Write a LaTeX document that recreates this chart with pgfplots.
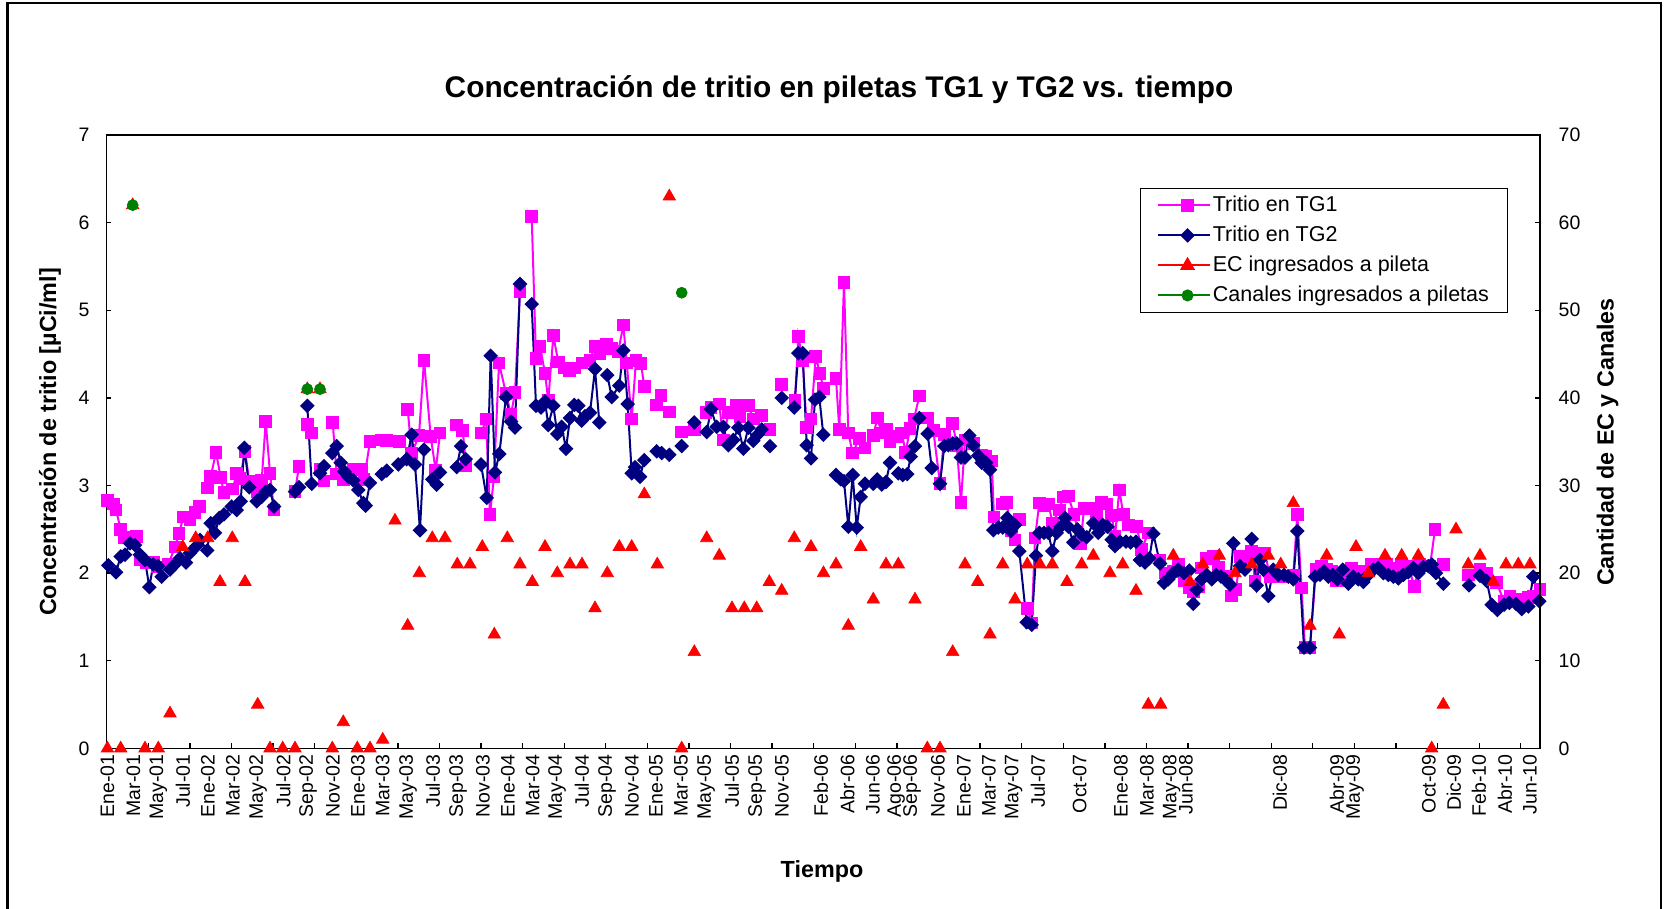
\documentclass[border=0pt]{standalone}
\usepackage{pgfplots}
\pgfplotsset{compat=1.18}
\usepackage{fontspec}
\setmainfont{Liberation Sans}
\definecolor{tgone}{RGB}{255,0,255}
\definecolor{tgtwo}{RGB}{0,0,128}
\definecolor{ecred}{RGB}{255,0,0}
\definecolor{cangreen}{RGB}{0,128,0}
\begin{document}
\begin{tikzpicture}[x=0.6pt,y=0.6pt]
\useasboundingbox (0,0) rectangle (1667,908);
\draw[line width=1.5pt] (7.4,-5) -- (7.4,904.8) -- (1661,904.8) -- (1661,-5);
\begin{axis}[
  at={(63.9pt,95.76pt)}, anchor=south west,
  scale only axis, width=860.1pt, height=368.04pt,
  xmin=106.5, xmax=1540, ymin=0, ymax=7,
  clip=false, unbounded coords=jump,
  axis line style={black, line width=0.9pt},
  ytick={0,1,...,7}, ytick pos=left,
  xtick={148.3,189.89,...,1525}, xticklabels={}, xtick pos=bottom,
  extra x ticks={107.5,133.4,158.4,183,208,233,258,283.5,308,333,358,382.6,408,433,458,483,508,532.7,557,582,607,632,656,681,706,732,757,782,821,847.4,872.8,896,912,938,964,989,1013.5,1038,1079.6,1121,1147,1171.6,1186,1280,1337,1355,1429,1454,1479,1505,1530},
  extra x tick labels={Ene-01,Mar-01,May-01,Jul-01,Ene-02,Mar-02,May-02,Jul-02,Sep-02,Nov-02,Ene-03,Mar-03,May-03,Jul-03,Sep-03,Nov-03,Ene-04,Mar-04,May-04,Jul-04,Sep-04,Nov-04,Ene-05,Mar-05,May-05,Jul-05,Sep-05,Nov-05,Feb-06,Abr-06,Jun-06,Ago-06,Sep-06,Nov-06,Ene-07,Mar-07,May-07,Jul-07,Oct-07,Ene-08,Mar-08,May-08,Jun-08,Dic-08,Abr-09,May-09,Oct-09,Dic-09,Feb-10,Abr-10,Jun-10},
  extra x tick style={major tick length=0pt},
  tick align=inside, major tick length=3pt,
  tick style={black, line width=0.8pt},
  /pgf/number format/assume math mode=true,
  tick label style={font=\fontsize{11.7}{12}\selectfont},
  xticklabel style={rotate=90, anchor=east, inner sep=3.5pt},
  yticklabel style={anchor=east, inner sep=0pt, xshift=-10pt},
  legend style={at={(0.721,0.9136)}, anchor=north west, draw=black, line width=0.6pt, fill=white,
    font=\fontsize{12.9}{14}\selectfont, inner xsep=10pt, inner ysep=3pt, row sep=3.7pt,
    nodes={inner sep=1pt, text height=9.5pt, text depth=2.8pt}},
  legend cell align=left,
  legend image code/.code={\path (-5pt,0pt) -- (26.2pt,0pt); \draw[mark repeat=2,mark phase=2,#1] plot coordinates {(0pt,0pt) (12.6pt,0pt) (25.2pt,0pt)};},
]
\addplot[tgone, line width=1.2pt, mark=square*, mark size=3.2pt, mark options={solid}] coordinates {
(107.3,2.83)(113.3,2.79)(116,2.72)(120.7,2.50)(124,2.41)(128.3,2.41)(130,nan)
(136.7,2.42)(140.7,2.15)(146,2.12)(153.3,2.12)(157.3,2.07)(160,nan)
(168.3,2.10)(175,2.30)(179,2.45)(183.3,2.64)(190,2.61)(195,2.69)(199.3,2.76)(203,nan)
(207.3,2.97)(210.7,3.10)(216,3.38)(220.7,3.09)(224,2.92)(228,nan)
(232.7,2.96)(236.7,3.14)(240,3.08)(245,3.39)(249.3,3.05)(253,nan)
(257.3,2.93)(261.7,3.06)(265.7,3.73)(270,3.14)(274,2.72)(280,nan)
(295,2.93)(299,3.22)(303,nan)
(307.3,3.70)(311.7,3.60)(315,nan)
(320,3.18)(324,3.05)(328,nan)
(332.7,3.72)(336.7,3.13)(343.3,3.07)(348,nan)
(353.3,3.18)(357,nan)
(361.7,3.18)(364,3.07)(370,3.50)(375,nan)
(381.7,3.52)(386.7,3.51)(392,nan)
(399.3,3.50)(403,nan)
(407.7,3.87)(411.7,3.37)(419,3.57)(424,4.43)(430.7,3.56)(435.7,3.17)(440,3.60)(448,nan)
(456.7,3.69)(462.7,3.63)(466,3.23)(474,nan)
(481.7,3.60)(486,3.76)(490,2.67)(494,3.10)(499,4.40)(506,4.05)(511,3.81)(515,4.06)(520,5.21)(526,nan)
(531.7,6.07)(536,4.45)(540,4.59)(545,4.28)(548.3,3.97)(553.3,4.71)(558.3,4.41)(564,4.34)(569.3,4.31)(575,4.34)(582,4.40)(590,4.43)(595,4.59)(600,4.50)(606.7,4.61)(611.7,4.56)(618.3,4.53)(623.3,4.83)(626.7,4.40)(631.7,3.76)(636,4.43)(641,4.39)(644.3,4.13)(650,nan)
(656.7,3.92)(661,4.03)(665,nan)
(669.3,3.84)(675,nan)
(681.7,3.61)(688,nan)
(694.3,3.64)(700,nan)
(706,3.83)(711,3.89)(715,nan)
(719.3,3.93)(723.3,3.52)(728.3,3.83)(736,3.91)(740,3.79)(744,nan)
(748.3,3.91)(753.3,3.76)(757,nan)
(761.7,3.80)(766,nan)
(770,3.64)(776,nan)
(781.7,4.15)(788,nan)
(795,3.97)(798.3,4.70)(802.7,4.43)(806.7,3.66)(811,3.76)(815.7,4.47)(820,4.28)(823.3,4.11)(830,nan)
(836,4.22)(839.3,3.64)(844,5.32)(848.3,3.60)(852.7,3.37)(859.3,3.54)(865,3.43)(869,nan)
(873.3,3.57)(877.3,3.77)(881.7,3.60)(886.7,3.64)(890,3.50)(897.3,3.56)(901.7,3.60)(905.7,3.38)(910,3.65)(914,3.76)(919.3,4.02)(923,nan)
(927.7,3.77)(933.3,3.63)(940,3.02)(944.3,3.58)(948,nan)
(952.7,3.71)(956.7,3.46)(961,2.81)(965,3.52)(969,nan)
(973.3,3.48)(977,nan)
(981.7,3.35)(986,3.33)(991.7,3.28)(994,2.64)(998,nan)
(1002.7,2.79)(1006.7,2.81)(1011,2.48)(1015,2.38)(1019.3,2.61)(1023,nan)
(1027.3,1.60)(1031.7,1.43)(1035,2.40)(1039.3,2.80)(1044,2.77)(1048.3,2.79)(1052.7,2.57)(1059.3,2.72)(1063.3,2.87)(1068.3,2.88)(1074,2.67)(1080.7,2.34)(1084,2.74)(1091.7,2.74)(1096.7,2.67)(1101.7,2.81)(1106.7,2.79)(1111.7,2.66)(1115,2.42)(1119.3,2.95)(1123.3,2.67)(1128.3,2.55)(1132,nan)
(1136.7,2.53)(1141.7,2.27)(1148.3,2.46)(1154,nan)
(1160,2.15)(1165,2.00)(1169,nan)
(1173.3,2.02)(1178.3,2.10)(1184,1.91)(1189.3,1.83)(1193.3,1.79)(1198.3,1.85)(1201.7,2.06)(1206.7,2.17)(1213.3,2.19)(1218.3,2.07)(1222,nan)
(1226.7,1.96)(1231.7,1.74)(1236,1.81)(1240,2.19)(1246.7,2.19)(1251.7,2.25)(1255,1.91)(1260,2.23)(1265,2.23)(1270,1.96)(1276,1.96)(1281.7,1.96)(1288.3,1.96)(1293.3,1.98)(1297.3,2.67)(1301.5,1.83)(1305,1.15)(1310,1.15)(1316,2.04)(1321.7,2.08)(1326.7,2.04)(1331.7,2.02)(1336.7,1.91)(1341.7,1.91)(1346.7,2.02)(1351.7,2.06)(1356.7,2.00)(1361.7,2.02)(1366.7,2.02)(1371.7,2.10)(1376.7,2.10)(1381.7,2.06)(1386.7,2.10)(1391.7,2.02)(1396.7,2.06)(1401.7,2.10)(1408.3,2.08)(1414.3,1.85)(1420,2.10)(1425,2.08)(1430,2.08)(1435,2.50)(1439,nan)
(1443.3,2.10)(1450,nan)
(1468.3,1.98)(1474,nan)
(1480,2.04)(1486.7,2.00)(1491,nan)
(1496.7,1.89)(1504,1.68)(1510,1.74)(1516,1.70)(1522.7,1.70)(1528.3,1.72)(1533.3,1.74)(1540,1.81)
};
\addlegendentry{Tritio en TG1}
\addplot[tgtwo, line width=1.2pt, mark=square*, mark size=2.5pt, mark options={solid, rotate=45}] coordinates {
(108.3,2.09)(116,2.01)(120.7,2.19)(125,2.21)(130,2.34)(135,2.32)(140,2.21)(145,2.15)(149.3,1.84)(153.3,2.10)(158.3,2.08)(161.7,1.96)(165,nan)
(170,2.04)(175,2.10)(180,2.17)(186,2.12)(190,2.23)(196.7,2.31)(200,2.38)(207.3,2.26)(210.7,2.57)(215,2.46)(219.3,2.63)(224,2.67)(231.7,2.76)(236.7,2.72)(240.7,2.82)(244.3,3.43)(249.3,2.98)(256.7,2.82)(261.7,2.87)(265.7,2.93)(270,2.95)(274,2.76)(280,nan)
(295,2.93)(299,2.98)(303,nan)
(307.3,3.91)(311.7,3.02)(315,nan)
(320,3.14)(324,3.22)(328,nan)
(332.3,3.37)(336.7,3.45)(340.7,3.26)(344.3,3.16)(348.3,3.10)(353.3,3.06)(358.3,2.95)(363.3,2.80)(365.7,2.77)(370,3.03)(375,nan)
(381.7,3.13)(386.7,3.17)(392,nan)
(398.3,3.24)(402,nan)
(406.7,3.30)(411.7,3.58)(415,3.24)(420,2.49)(424,3.41)(428,nan)
(432.3,3.07)(436.7,3.01)(440,3.15)(448,nan)
(456.7,3.21)(461,3.45)(465.7,3.30)(474,nan)
(481,3.24)(486.7,2.86)(490.7,4.48)(495,3.15)(499.3,3.36)(506,4.01)(511,3.73)(515,3.66)(520,5.30)(526,nan)
(531.7,5.07)(536,3.91)(541,3.89)(545,3.96)(548.3,3.69)(553.3,3.91)(557.3,3.59)(561.7,3.67)(566,3.42)(570,3.77)(574.3,3.92)(578.3,3.91)(581.7,3.74)(585,3.79)(590,3.83)(595,4.33)(599.3,3.72)(603,nan)
(607.3,4.26)(611.7,4.01)(619.3,4.14)(623.3,4.54)(627.7,3.93)(631.7,3.14)(635,3.21)(640,3.10)(644.3,3.29)(650,nan)
(656.7,3.39)(661.7,3.37)(665,nan)
(669.3,3.35)(675,nan)
(681.7,3.45)(688,nan)
(694.3,3.72)(700,nan)
(706.7,3.61)(711,3.87)(716.7,3.67)(723.3,3.67)(728.3,3.46)(733.3,3.52)(738.3,3.66)(743.3,3.42)(748.3,3.66)(753.3,3.51)(757.7,3.58)(761.7,3.64)(766,nan)
(770,3.45)(776,nan)
(781.7,4.00)(788,nan)
(794.3,3.89)(798.3,4.51)(802.7,4.51)(806.7,3.46)(811,3.31)(815,3.98)(819.3,4.01)(823.3,3.58)(830,nan)
(836,3.12)(840.7,3.07)(844,3.05)(848.3,2.53)(852.7,3.12)(856.7,2.52)(860.7,2.87)(865,3.02)(869,nan)
(873.3,3.02)(877.3,3.07)(881.7,3.01)(886,3.04)(890,3.26)(894,nan)
(898.3,3.14)(902.7,3.12)(907.3,3.13)(910.7,3.33)(915,3.45)(919.3,3.77)(923,nan)
(927.7,3.59)(931.7,3.20)(936,nan)
(940,3.02)(944.3,3.45)(948.3,3.46)(952.7,3.48)(956.7,3.48)(961,3.32)(965,3.32)(969.3,3.57)(973.3,3.46)(978.3,3.34)(981.7,3.26)(986,3.26)(990,3.18)(993.3,2.49)(998.3,2.52)(1002.7,2.52)(1007.3,2.63)(1010.7,2.48)(1015,2.55)(1019.3,2.25)(1026.7,1.44)(1031.7,1.41)(1036,2.20)(1039.3,2.46)(1044,2.46)(1048.3,2.46)(1052.3,2.25)(1056.7,2.46)(1060.7,2.53)(1065,2.63)(1068.3,2.53)(1073.3,2.35)(1077.3,2.50)(1081.7,2.44)(1086.7,2.41)(1093.3,2.57)(1098.3,2.46)(1102.7,2.55)(1107.3,2.53)(1111.7,2.38)(1115,2.31)(1120,2.36)(1126,2.36)(1130.7,2.35)(1136,2.36)(1140,2.15)(1145,2.12)(1149.3,2.17)(1153.3,2.45)(1160,2.11)(1164,1.89)(1168.3,1.93)(1173.3,2.00)(1178.3,2.04)(1184,2.00)(1189.3,2.03)(1193.3,1.65)(1196.7,1.81)(1201.7,1.93)(1206.7,1.98)(1211.7,1.93)(1216,1.98)(1221,1.96)(1225,1.93)(1230,1.87)(1233.3,2.34)(1240,2.08)(1245,2.04)(1251.7,2.39)(1256.7,1.86)(1260,2.15)(1263.3,2.04)(1268.3,1.74)(1273.3,2.04)(1278.3,1.98)(1284,1.98)(1288.3,1.96)(1293.3,1.93)(1297.3,2.48)(1304,1.15)(1310,1.15)(1315,1.96)(1320,1.98)(1324,2.02)(1328.3,1.96)(1332.7,1.98)(1337.3,1.93)(1342.7,2.04)(1348.3,1.88)(1353.3,1.96)(1358.3,1.93)(1363.3,1.90)(1368.3,1.98)(1373.3,2.04)(1378.3,2.06)(1383.3,2.00)(1388.3,1.98)(1393.3,1.96)(1398.3,1.94)(1403.3,1.98)(1408.3,2.01)(1413.3,2.06)(1418.3,2.00)(1423.3,2.07)(1428.3,2.08)(1431.7,2.10)(1436,2.00)(1443.3,1.88)(1450,nan)
(1469,1.86)(1474,nan)
(1480,1.97)(1486.7,1.91)(1491.7,1.64)(1497.3,1.58)(1504,1.64)(1509.3,1.66)(1516,1.65)(1521.7,1.59)(1528.3,1.62)(1533.3,1.96)(1539.3,1.68)
};
\addlegendentry{Tritio en TG2}
\addlegendimage{ecred, line width=1.2pt, mark=triangle*, mark size=4pt, mark options={solid}}
\addlegendentry{EC ingresados a pileta}
\addlegendimage{cangreen, line width=1.2pt, mark=*, mark size=3pt, mark options={solid}}
\addlegendentry{Canales ingresados a piletas}
\end{axis}
\begin{axis}[
  at={(63.9pt,95.76pt)}, anchor=south west,
  scale only axis, width=860.1pt, height=368.04pt,
  xmin=106.5, xmax=1540, ymin=0, ymax=70,
  clip=false,
  axis x line=none, axis y line*=right,
  axis line style={black, line width=0.9pt},
  ytick={0,10,...,70},
  tick align=inside, major tick length=3pt,
  tick style={black, line width=0.8pt},
  /pgf/number format/assume math mode=true,
  tick label style={font=\fontsize{11.7}{12}\selectfont},
  yticklabel style={anchor=west, inner sep=0pt, xshift=11pt},
]
\addplot[only marks, ecred, mark=triangle*, mark size=4.3pt] coordinates {
(107.4,0)(120.7,0)(132.7,62)(145,0)(158.3,0)(170,4)(182.7,23)(195.7,24)(207.7,24)(220,19)(232.3,24)(245,19)(257.7,5)(270,0)(282.7,0)(295,0)(307.3,41)(320,41)(332.3,0)(343.3,3)
(357.3,0)(370,0)(382.7,1)(395,26)(407.7,14)(419.3,20)(432.3,24)(445,24)(457.3,21)(470,21)(482.3,23)(494.3,13)(507.3,24)(520,21)(532.3,19)(545,23)(557.3,20)(570,21)(582,21)
(595,16)(607.3,20)(619.3,23)(631.7,23)(644.3,29)(657.3,21)(669.3,63)(681.7,0)(694.3,11)(706.7,24)(719.3,22)(732,16)(744.3,16)(756.7,16)(769.3,19)(781.7,18)(794.3,24)(811,23)(823.5,20)
(836,21)(848.3,14)(860.7,23)(873.3,17)(886,21)(898.3,21)(915,17)(927.3,0)(940,0)(952.7,11)(965,21)(977.7,19)(990,13)(1002.7,21)(1015,17)(1027.3,21)(1040,21)(1052.3,21)(1067,19)
(1081.7,21)(1093.3,22)(1110,20)(1122.7,21)(1136,18)(1148.3,5)(1160.7,5)(1173.3,22)(1190,19)(1202.7,21)(1219.3,22)(1235,20)(1251.7,21)(1268.3,22)(1280.7,21)(1293.3,28)
(1310,14)(1326.7,22)(1339.3,13)(1356,23)(1368.3,20)(1385,22)(1401.7,22)(1418.3,22)(1431.7,0)(1443.3,5)(1456,25)(1468.3,21)(1480,22)(1493.3,19)(1506,21)(1518.3,21)(1530,21)
};
\addplot[only marks, cangreen, mark=*, mark size=3.3pt] coordinates {
(132.7,62)(307.3,41)(320,41)(681.7,52)
};
\end{axis}
\node[font=\bfseries\fontsize{17.9}{20}\selectfont] at (839,818) {Concentración de tritio en piletas TG1 y TG2 vs. tiempo};
\node[font=\bfseries\fontsize{14}{16}\selectfont] at (822,37) {Tiempo};
\node[rotate=90, font=\bfseries\fontsize{14}{16}\selectfont] at (50,466) {Concentración de tritio [µCi/ml]};
\node[rotate=90, font=\bfseries\fontsize{14}{16}\selectfont] at (1607.5,466) {Cantidad de EC y Canales};
\end{tikzpicture}
\end{document}
